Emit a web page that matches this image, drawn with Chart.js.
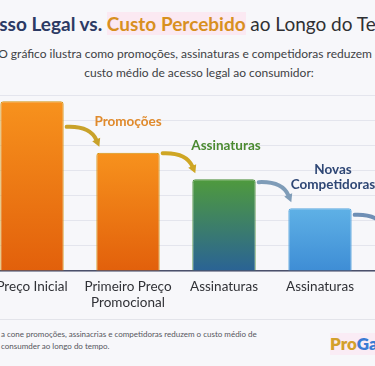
<!DOCTYPE html>
<html lang="pt">
<head>
<meta charset="utf-8">
<script src="https://cdn.jsdelivr.net/npm/chart.js@4.4.1/dist/chart.umd.min.js"></script>
<style>
  html,body{margin:0;padding:0;}
  body{width:375px;height:366px;overflow:hidden;background:#f7f7fa;position:relative;font-family:Lato,"Open Sans",sans-serif;}
  .title{position:absolute;top:10px;left:-310px;width:1000px;text-align:center;font-size:19px;font-weight:700;white-space:nowrap;line-height:28px;}
  .title .a{color:#2c3a64;}
  .title .b{color:#d8901f;background:rgba(255,215,232,0.45);}
  .title .c{color:#2f3033;font-weight:400;}
  .sub{position:absolute;width:1000px;text-align:center;font-size:12px;color:#3e3f44;line-height:19px;white-space:nowrap;}
  .s1{top:44px;left:-310px;}
  .s2{top:63px;left:-301px;}
  #wrap{position:absolute;left:-16px;top:90px;width:480px;height:229px;}
  .sep{position:absolute;left:0;top:319px;width:375px;height:1px;background:#e3e4ea;}
  .foot{position:absolute;left:1px;top:329px;font-size:8px;color:#55565c;line-height:11.5px;white-space:nowrap;}
  .logo{position:absolute;left:330px;top:333px;font-size:17px;font-weight:800;white-space:nowrap;background:rgba(255,215,235,0.35);line-height:22px;}
  .logo .p{color:#d3a02c;} .logo .g{color:#3b7bd4;}
</style>
</head>
<body>
<div class="title"><span class="a">Acesso Legal vs.</span> <span class="b">Custo Percebido</span> <span class="c">ao Longo do Tempo</span></div>
<div class="sub s1">O gráfico ilustra como promoções, assinaturas e competidoras reduzem o</div>
<div class="sub s2">custo médio de acesso legal ao consumidor:</div>
<div id="wrap"><canvas id="c"></canvas></div>
<div class="sep"></div>
<div class="foot">a cone promoções, assinacrias e competidoras reduzem o custo médio de<br>consumder ao longo do tempo.</div>
<div class="logo"><span class="p">Pro</span><span class="g">Games</span></div>
<script>
// ---- data ----
const categories = ["Preço Inicial", ["Primeiro Preço", "Promocional"], "Assinaturas", "Assinaturas", ["Novas", "Competidoras"]];
const costValues = [67.5, 47, 36.5, 25, 12];
const stepLabels = ["Promoções", "Assinaturas", ["Novas", "Competidoras"], ""];
const yTicks = [0, 10, 20, 30, 40, 50, 60, 70];

// ---- styles ----
const barGradients = [
  ["#f7921d", "#e2600b"],
  ["#f7921d", "#e2600b"],
  ["#4f9a3d", "#2a6395"],
  ["#5fb1e6", "#3e8dd5"],
  ["#5cb0e6", "#3a89d2"]
];
const barBorders = ["#d3950f", "#d3950f", "#4c8f3a", "#5aa7df", "#5aa7df"];
const arrowColors = ["#c9a22a", "#cfa624", "#7f9cb8", "#6f8fb5"];
const labelColors = ["#e08a2c", "#4b8a31", "#2f4775", "#2f4775"];
const labelDx = [0, 2, 13, 0];
const labelDy = [31, 34, 24, 30];

function barFill(ctx) {
  const chart = ctx.chart;
  const area = chart.chartArea;
  if (!area) return barGradients[ctx.dataIndex][0];
  const y = chart.scales.y;
  const top = y.getPixelForValue(costValues[ctx.dataIndex]);
  const bottom = y.getPixelForValue(0);
  const g = chart.ctx.createLinearGradient(0, top, 0, bottom);
  g.addColorStop(0, barGradients[ctx.dataIndex][0]);
  g.addColorStop(1, barGradients[ctx.dataIndex][1]);
  return g;
}

const flowPlugin = {
  id: 'flow',
  afterDatasetsDraw(chart) {
    const els = chart.getDatasetMeta(0).data;
    const c = chart.ctx;
    c.save();
    for (let i = 0; i < els.length - 1; i++) {
      const a = els[i], b = els[i + 1];
      const sx = a.x + a.width / 2 + 3, sy = b.y - 26;
      const ex = b.x - b.width / 2 + 3, ey = b.y - 6;
      const cx = ex - 9, cy = sy - 1;
      const ang = Math.atan2(ey - cy, ex - cx);
      const hl = 9;
      const lx = ex - Math.cos(ang) * hl * 0.8, ly = ey - Math.sin(ang) * hl * 0.8;
      c.strokeStyle = arrowColors[i];
      c.fillStyle = arrowColors[i];
      c.lineWidth = 4;
      c.lineCap = 'round';
      c.beginPath();
      c.moveTo(sx, sy);
      c.quadraticCurveTo(cx, cy, lx, ly);
      c.stroke();
      c.beginPath();
      c.moveTo(ex, ey);
      c.lineTo(ex - Math.cos(ang - 0.5) * hl, ey - Math.sin(ang - 0.5) * hl);
      c.lineTo(ex - Math.cos(ang + 0.5) * hl, ey - Math.sin(ang + 0.5) * hl);
      c.closePath();
      c.fill();
      const lab = stepLabels[i];
      const lines = Array.isArray(lab) ? lab : [lab];
      c.font = "700 13.5px Lato, 'Open Sans', sans-serif";
      c.textAlign = 'center';
      c.textBaseline = 'middle';
      c.fillStyle = labelColors[i];
      const lh = 15;
      for (let k = 0; k < lines.length; k++) {
        const yy = b.y - labelDy[i] - (lines.length - 1 - k) * lh;
        c.fillText(lines[k], b.x + labelDx[i], yy);
      }
    }
    c.restore();
  }
};

new Chart(document.getElementById('c'), {
  type: 'bar',
  data: {
    labels: categories,
    datasets: [{
      data: costValues,
      backgroundColor: barFill,
      borderColor: barBorders,
      borderWidth: 1,
      borderRadius: 3,
      borderSkipped: 'bottom',
      barPercentage: 0.66,
      categoryPercentage: 1
    }]
  },
  options: {
    responsive: true,
    maintainAspectRatio: false,
    animation: false,
    layout: { padding: { top: 5, left: 0, right: 0, bottom: 0 } },
    plugins: { legend: { display: false }, tooltip: { enabled: false } },
    scales: {
      x: {
        grid: { display: false },
        border: { display: true, color: '#4b506b', width: 1.5 },
        ticks: { color: '#303136', font: { family: "Lato, 'Open Sans', sans-serif", size: 13.5, lineHeight: 1.15 }, padding: 0, autoSkip: false, maxRotation: 0 },
        afterFit(s) { s.height = 48; }
      },
      y: {
        min: yTicks[0], max: yTicks[yTicks.length - 1],
        afterBuildTicks(s) { s.ticks = yTicks.map(v => ({ value: v })); },
        ticks: { display: false },
        grid: { color: '#e4e5ed', lineWidth: 1, drawTicks: false },
        border: { display: false },
        afterFit(s) { s.width = 0; }
      }
    }
  },
  plugins: [flowPlugin]
});
</script>
</body>
</html>
